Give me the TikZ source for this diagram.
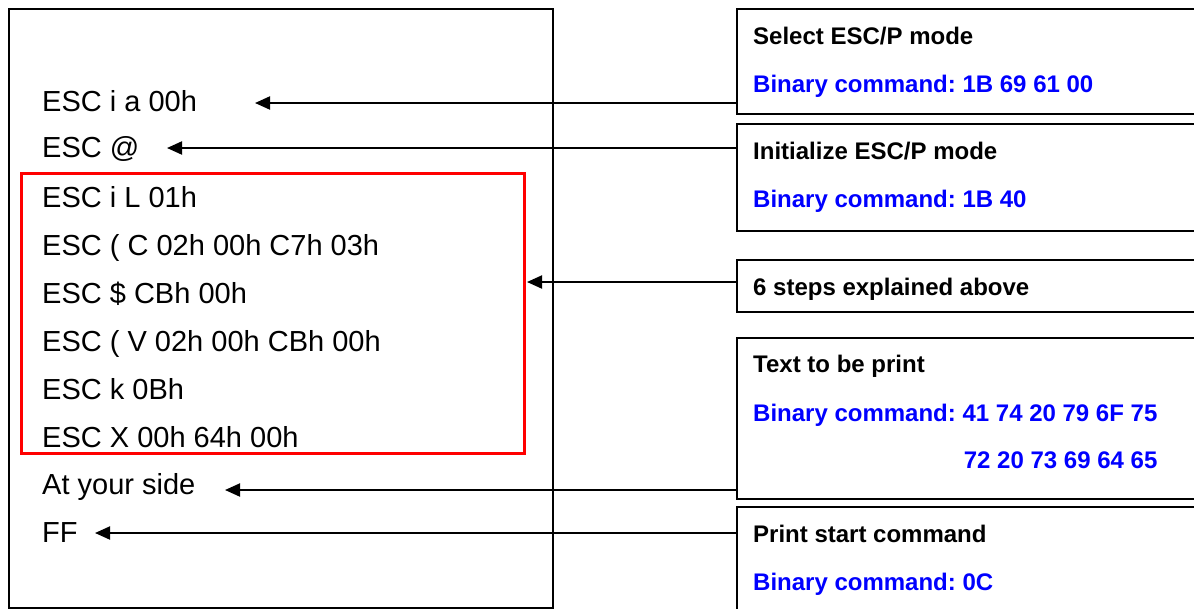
\documentclass[tikz,border=0pt]{standalone}
\usepackage{fontspec}
\setmainfont{Liberation Sans}
\usetikzlibrary{arrows.meta}
\definecolor{cmdblue}{RGB}{0,0,255}
\frenchspacing
\begin{document}
\begin{tikzpicture}[x=1pt,y=-1pt,
  cmd/.style={anchor=base west, inner sep=0pt, font=\fontsize{29}{34}\selectfont},
  lbl/.style={anchor=base west, inner sep=0pt, font=\fontsize{24}{28}\selectfont\bfseries},
  bin/.style={lbl, text=cmdblue},
  rbox/.style={draw, line width=2.3pt, anchor=north west, minimum width=520pt, inner sep=0pt},
  arr/.style={line width=2pt, -{Triangle[length=15pt,width=13pt]}},
]
\useasboundingbox (0,0) rectangle (1194,608);
\clip (0,0) rectangle (1194,608);
% left panel
\node[draw, line width=1.5pt, anchor=north west, minimum width=544pt, minimum height=599pt, inner sep=0pt] (left) at (8,8) {};
\node[draw=red, line width=2.7pt, anchor=north west, minimum width=503pt, minimum height=280pt, inner sep=0pt] (group) at (20,172) {};
% command lines
\node[cmd] (c1) at (42,111) {ESC i a 00h};
\node[cmd] (c2) at (42,157) {ESC @};
\node[cmd] (c3) at (42,207) {ESC i L 01h};
\node[cmd] (c4) at (42,255) {ESC ( C 02h 00h C7h 03h};
\node[cmd] (c5) at (42,303) {ESC \$ CBh 00h};
\node[cmd] (c6) at (42,351) {ESC ( V 02h 00h CBh 00h};
\node[cmd] (c7) at (42,399) {ESC k 0Bh};
\node[cmd] (c8) at (42,447) {ESC X 00h 64h 00h};
\node[cmd] (c9) at (42,494) {At your side};
\node[cmd] (c10) at (42,542) {FF};
% right boxes
\node[rbox, minimum height=105pt] (b1) at (736,8) {};
\node[rbox, minimum height=107pt] (b2) at (736,123) {};
\node[rbox, minimum height=52pt] (b3) at (736,259) {};
\node[rbox, minimum height=161pt] (b4) at (736,337) {};
\node[rbox, minimum height=150pt] (b5) at (736,506) {};
% box texts
\node[lbl] (t1) at (753,44) {Select ESC/P mode};
\node[bin] (t1b) at (753,92) {Binary command: 1B 69 61 00};
\node[lbl] (t2) at (753,159) {Initialize ESC/P mode};
\node[bin] (t2b) at (753,207) {Binary command: 1B 40};
\node[lbl] (t3) at (753,295) {6 steps explained above};
\node[lbl] (t4) at (753,372) {Text to be print};
\node[bin] (t4b) at (753,421) {Binary command: 41 74 20 79 6F 75};
\node[bin, anchor=base east] (t4c) at (t4b.base east |- 0,468) {72 20 73 69 64 65};
\node[lbl] (t5) at (753,542) {Print start command};
\node[bin] (t5b) at (753,590) {Binary command: 0C};
% arrow tips
\coordinate (tip1) at (255,103);
\coordinate (tip2) at (167,148);
\coordinate (tip3) at (527,282);
\coordinate (tip4) at (225,490);
\coordinate (tip5) at (95,533);
\draw[arr] (b1.west |- tip1) -- (tip1);
\draw[arr] (b2.west |- tip2) -- (tip2);
\draw[arr] (b3.west |- tip3) -- (tip3);
\draw[arr] (b4.west |- tip4) -- (tip4);
\draw[arr] (b5.west |- tip5) -- (tip5);
\end{tikzpicture}
\end{document}
